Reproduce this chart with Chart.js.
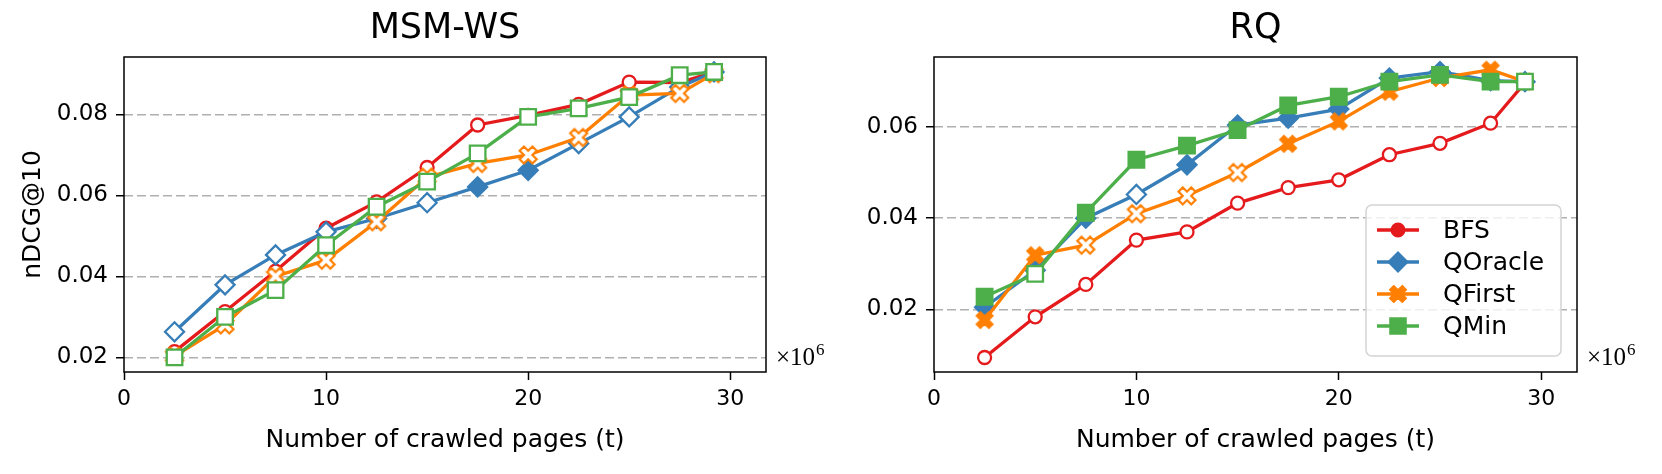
<!DOCTYPE html>
<html>
<head>
<meta charset="utf-8">
<script src="https://cdn.jsdelivr.net/npm/chart.js@4"></script>
<style>
body{margin:0;background:#fff;width:1662px;height:474px;overflow:hidden}
canvas{position:absolute;top:0}
#c1{left:0}
#c2{left:831px}
</style>
</head>
<body>
<canvas id="c1" width="831" height="474"></canvas>
<canvas id="c2" width="831" height="474"></canvas>
<script>
'use strict'

// x values (millions of crawled pages)
const crawled = [2.5, 5, 7.5, 10, 12.5, 15, 17.5, 20, 22.5, 25, 27.5, 29.2]
const xTicks = [0, 10, 20, 30]

// MSM-WS
const msmBFS     = [0.0214, 0.0313, 0.0413, 0.0519, 0.0584, 0.0669, 0.0774, 0.0798, 0.0825, 0.0880, 0.0879, 0.0905]
const msmQOracle = [0.0263, 0.0379, 0.0453, 0.0510, 0.0543, 0.0582, 0.0621, 0.0662, 0.0728, 0.0794, 0.0868, 0.0905]
const msmQFirst  = [0.0203, 0.0280, 0.0400, 0.0440, 0.0535, 0.0645, 0.0679, 0.0700, 0.0743, 0.0848, 0.0852, 0.0901]
const msmQMin    = [0.0200, 0.0300, 0.0366, 0.0477, 0.0572, 0.0634, 0.0704, 0.0794, 0.0815, 0.0843, 0.0897, 0.0905]
const msmYTicks = [0.02, 0.04, 0.06, 0.08]

// RQ
const rqBFS     = [0.0095, 0.0184, 0.0255, 0.0352, 0.0370, 0.0433, 0.0467, 0.0484, 0.0539, 0.0564, 0.0608, 0.0697]
const rqQOracle = [0.0205, 0.0286, 0.0400, 0.0452, 0.0517, 0.0604, 0.0619, 0.0639, 0.0707, 0.0721, 0.0701, 0.0699]
const rqQFirst  = [0.0177, 0.0319, 0.0341, 0.0410, 0.0449, 0.0500, 0.0563, 0.0612, 0.0677, 0.0707, 0.0725, 0.0699]
const rqQMin    = [0.0228, 0.0278, 0.0412, 0.0528, 0.0559, 0.0593, 0.0647, 0.0666, 0.0699, 0.0714, 0.0699, 0.0699]
const rqYTicks = [0.02, 0.04, 0.06]

// filled (1) or hollow (0) markers
const msmFilledBFS     = [0,0,0,0,0,0,0,0,0,0,0,0]
const msmFilledQOracle = [0,0,0,0,0,0,1,1,0,0,0,0]
const msmFilledQFirst  = [0,0,0,0,0,0,0,0,0,0,0,0]
const msmFilledQMin    = [0,0,0,0,0,0,0,0,0,0,0,0]
const rqFilledBFS      = [0,0,0,0,0,0,0,0,0,0,0,0]
const rqFilledQOracle  = [1,1,1,0,1,1,1,1,1,1,1,1]
const rqFilledQFirst   = [1,1,0,0,0,0,1,1,1,1,1,1]
const rqFilledQMin     = [1,0,1,1,1,1,1,1,1,1,1,0]

const FONT = '"DejaVu Sans", sans-serif'
const SERIF = '"Liberation Serif", "DejaVu Serif", serif'
const RED = '#e41a1c', BLUE = '#377eb8', ORANGE = '#ff7f00', GREEN = '#4daf4a'

// thick "X" marker like matplotlib's
function makeX(color, filled){
    const c = document.createElement('canvas')
    c.width = 24
    c.height = 24
    const ctx = c.getContext('2d')
    ctx.translate(12, 12)
    ctx.rotate(Math.PI / 4)
    const h = 9, a = 3
    ctx.beginPath()
    ctx.moveTo(-a, -h); ctx.lineTo(a, -h); ctx.lineTo(a, -a); ctx.lineTo(h, -a)
    ctx.lineTo(h, a); ctx.lineTo(a, a); ctx.lineTo(a, h); ctx.lineTo(-a, h)
    ctx.lineTo(-a, a); ctx.lineTo(-h, a); ctx.lineTo(-h, -a); ctx.lineTo(-a, -a)
    ctx.closePath()
    ctx.fillStyle = filled ? color : '#ffffff'
    ctx.fill()
    ctx.strokeStyle = color
    ctx.lineWidth = filled ? 1.2 : 2.2
    ctx.stroke()
    return c
}
const xFull = makeX(ORANGE, true)
const xEmpty = makeX(ORANGE, false)

function series(label, color, style, radius, vals, flags, order){
    const ds = {
        label: label,
        data: crawled.map((x, i) => ({x: x, y: vals[i]})),
        borderColor: color,
        backgroundColor: color,
        borderWidth: 3.3,
        pointBorderColor: color,
        pointBorderWidth: 2.3,
        pointRadius: radius,
        order: order,
        legendStyle: style
    }
    if(style == 'X'){
        ds.pointStyle = flags.map(f => f ? xFull : xEmpty)
        ds.legendStyle = xFull
    }
    else{
        ds.pointStyle = style
        ds.pointBackgroundColor = flags.map(f => f ? color : '#ffffff')
    }
    return ds
}

// box around the plot + x10^6 label
const frame = {
    id: 'frame',
    afterDatasetsDraw(chart){
        const {ctx, chartArea: a} = chart
        ctx.save()
        ctx.strokeStyle = '#000'
        ctx.lineWidth = 1.5
        ctx.strokeRect(a.left, a.top, a.right - a.left, a.bottom - a.top)
        ctx.fillStyle = '#000'
        ctx.textBaseline = 'alphabetic'
        ctx.font = '25px ' + SERIF
        ctx.fillText('\u00d710', a.right + 10, a.bottom - 7)
        const w = ctx.measureText('\u00d710').width
        ctx.font = '17px ' + SERIF
        ctx.fillText('6', a.right + 11 + w, a.bottom - 17)
        ctx.restore()
    }
}

const legendBox = {
    id: 'legendBox',
    afterDraw(chart){
        if(!chart.options.plugins.legendBox.show) return
        const {ctx, chartArea: a} = chart
        const w = 195, h = 151
        const x0 = a.right - 16 - w, y0 = a.bottom - 16 - h
        ctx.save()
        ctx.beginPath()
        ctx.roundRect(x0, y0, w, h, 6)
        ctx.fillStyle = 'rgba(255,255,255,0.8)'
        ctx.fill()
        ctx.strokeStyle = '#d4d4d4'
        ctx.lineWidth = 1.5
        ctx.stroke()
        chart.data.datasets.forEach((ds, i) => {
            const y = y0 + 25 + i * 32
            ctx.strokeStyle = ds.borderColor
            ctx.lineWidth = 3.3
            ctx.beginPath()
            ctx.moveTo(x0 + 11, y)
            ctx.lineTo(x0 + 53, y)
            ctx.stroke()
            ctx.fillStyle = ds.borderColor
            ctx.lineWidth = 2
            Chart.helpers.drawPoint(ctx, {pointStyle: ds.legendStyle, radius: ds.pointRadius, rotation: 0, borderWidth: 2}, x0 + 32, y)
            ctx.fillStyle = '#000'
            ctx.font = '25px ' + FONT
            ctx.textBaseline = 'middle'
            ctx.fillText(ds.label, x0 + 77, y + 1)
        })
        ctx.restore()
    }
}

function makeChart(id, title, sets, yMin, yMax, yTicks, yWidth, padRight, yTitle, showLegend){
    return new Chart(document.getElementById(id), {
        type: 'line',
        data: {datasets: sets},
        plugins: [frame, legendBox],
        options: {
            responsive: false,
            animation: false,
            events: [],
            layout: {padding: {left: 0, right: padRight, top: 0, bottom: 0}},
            plugins: {
                legend: {display: false},
                tooltip: {enabled: false},
                legendBox: {show: showLegend},
                title: {
                    display: true, text: title, color: '#000', fullSize: false,
                    font: {family: FONT, size: 35, weight: 'normal'},
                    padding: {top: 8, bottom: 7}
                }
            },
            scales: {
                x: {
                    type: 'linear', min: 0, max: 31.77,
                    afterBuildTicks: s => { s.ticks = xTicks.map(v => ({value: v})) },
                    afterFit: s => { s.height = 102 },
                    grid: {drawOnChartArea: false, tickLength: 8, tickColor: '#000', tickWidth: 1.5},
                    border: {display: false},
                    ticks: {color: '#000', font: {family: FONT, size: 22}, padding: 6, maxRotation: 0},
                    title: {display: true, text: 'Number of crawled pages (t)', color: '#000',
                        font: {family: FONT, size: 25}, padding: {top: 0, bottom: 19}}
                },
                y: {
                    type: 'linear', min: yMin, max: yMax,
                    afterBuildTicks: s => { s.ticks = yTicks.map(v => ({value: v})) },
                    afterFit: s => { s.width = yWidth },
                    grid: {color: '#b0b0b0', lineWidth: 1.5, tickLength: 8,
                        tickColor: '#000', tickWidth: 1.5, tickBorderDash: []},
                    border: {display: false, dash: [9, 4]},
                    ticks: {color: '#000', font: {family: FONT, size: 23}, padding: 8, callback: v => v.toFixed(2)},
                    title: {display: yTitle, text: 'nDCG@10', color: '#000',
                        font: {family: FONT, size: 25}, padding: {top: 18, bottom: 0}}
                }
            }
        }
    })
}

makeChart('c1', 'MSM-WS', [
    series('BFS', RED, 'circle', 6.5, msmBFS, msmFilledBFS, 4),
    series('QOracle', BLUE, 'rectRot', 9.5, msmQOracle, msmFilledQOracle, 3),
    series('QFirst', ORANGE, 'X', 9, msmQFirst, msmFilledQFirst, 2),
    series('QMin', GREEN, 'rect', 11, msmQMin, msmFilledQMin, 1)
], 0.01637, 0.0942, msmYTicks, 124, 65, true, false)

makeChart('c2', 'RQ', [
    series('BFS', RED, 'circle', 6.5, rqBFS, rqFilledBFS, 4),
    series('QOracle', BLUE, 'rectRot', 9.5, rqQOracle, rqFilledQOracle, 3),
    series('QFirst', ORANGE, 'X', 9, rqQFirst, rqFilledQFirst, 2),
    series('QMin', GREEN, 'rect', 11, rqQMin, rqFilledQMin, 1)
], 0.00632, 0.0753, rqYTicks, 103, 85, false, true)
</script>
</body>
</html>
